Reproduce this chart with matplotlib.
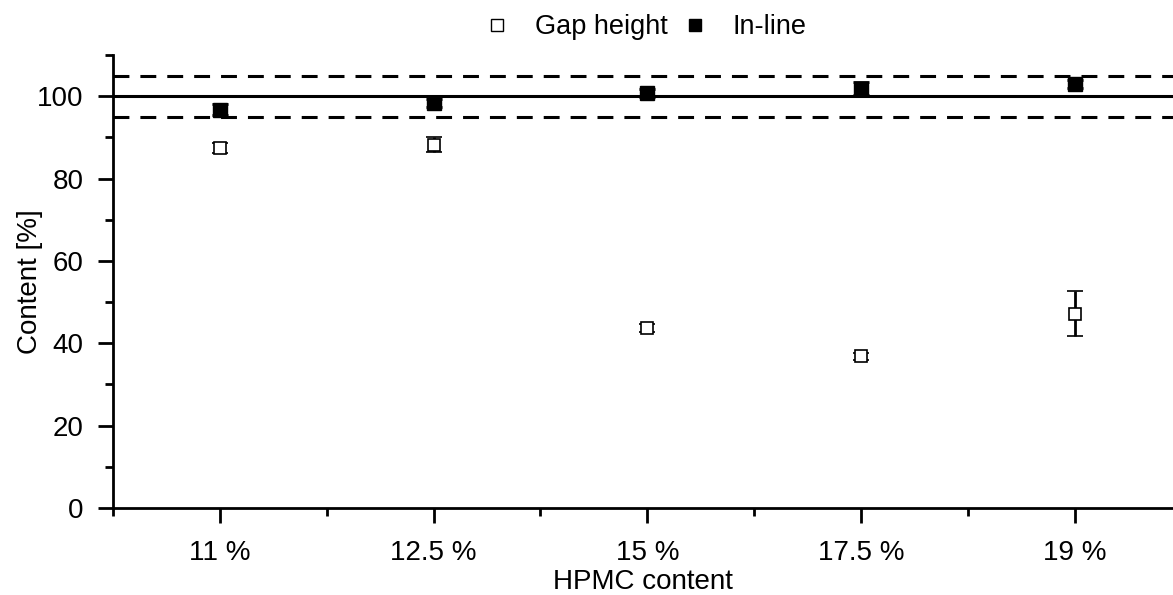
import matplotlib
matplotlib.use("Agg")
import matplotlib.pyplot as plt
from matplotlib.ticker import MultipleLocator, FixedLocator
from matplotlib.lines import Line2D

plt.rcParams['font.family'] = ['Liberation Sans', 'DejaVu Sans']

categories = ["11 %", "12.5 %", "15 %", "17.5 %", "19 %"]
gap_height = [87.5, 88.2, 43.8, 36.8, 47.2]
gap_err = [1.2, 1.8, 1.0, 0.9, 5.5]
in_line = [96.7, 98.4, 100.8, 101.8, 103.0]
in_line_err = [1.3, 1.0, 1.0, 1.6, 1.0]

x = list(range(1, len(categories) + 1))

fig = plt.figure(figsize=(11.73, 5.95), dpi=100)
ax = fig.add_axes([113/1173, 87/595, 1 - 113/1173, (508-55)/595])

ax.axhline(100, color='black', lw=2.2, zorder=1)
ax.axhline(95, color='black', lw=2.2, ls=(0, (5.2, 3.6)), zorder=1)
ax.axhline(105, color='black', lw=2.2, ls=(0, (5.2, 3.6)), zorder=1)

ax.errorbar(x, gap_height, yerr=gap_err, fmt='s', mfc='white', mec='black',
            mew=1.2, ms=9, ecolor='black', elinewidth=2, capsize=6, capthick=2,
            label='Gap height', zorder=3)
ax.errorbar(x, in_line, yerr=in_line_err, fmt='s', mfc='black', mec='black',
            ms=9.5, ecolor='black', elinewidth=2, capsize=6, capthick=2,
            label='In-line', zorder=3)

ax.set_xlim(0.5, 5.46)
ax.set_ylim(0, 110)
ax.set_xticks(x)
ax.set_xticklabels(categories)
ax.xaxis.set_minor_locator(FixedLocator([0.5, 1.5, 2.5, 3.5, 4.5]))
ax.set_yticks([0, 20, 40, 60, 80, 100])
ax.yaxis.set_minor_locator(MultipleLocator(10))

for s in ['top', 'right']:
    ax.spines[s].set_visible(False)
for s in ['left', 'bottom']:
    ax.spines[s].set_linewidth(2)

ax.tick_params(axis='both', which='major', direction='out', length=11, width=2,
               labelsize=20)
ax.tick_params(axis='y', which='major', pad=10)
ax.tick_params(axis='x', which='major', pad=12)
ax.tick_params(axis='both', which='minor', direction='out', length=6, width=2)

ax.set_xlabel('HPMC content', fontsize=20, labelpad=2)
ax.set_ylabel('Content [%]', fontsize=20, labelpad=-4)

h1 = Line2D([], [], marker='s', ls='none', mfc='white', mec='black', mew=1.0, ms=9)
h2 = Line2D([], [], marker='s', ls='none', mfc='black', mec='black', ms=9)
fig.legend([h1, h2], ['Gap height', 'In-line'], loc='center', ncol=2,
           bbox_to_anchor=(645/1173, 1 - 27/595), frameon=False, fontsize=19.5,
           handletextpad=0.9, columnspacing=0.5, handlelength=1.0,
           borderaxespad=0, borderpad=0)

fig.savefig('out.png', dpi=100)
